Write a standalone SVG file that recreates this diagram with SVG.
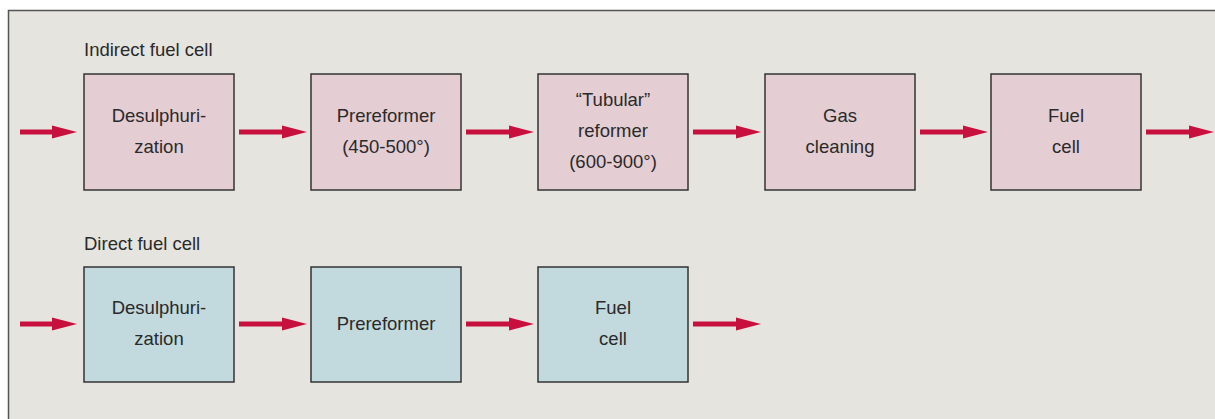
<svg xmlns="http://www.w3.org/2000/svg" width="1215" height="419" viewBox="0 0 1215 419">
<defs>
<style>
.frame{fill:#e5e4de;stroke:#555;stroke-width:1.5}
.pink{fill:#e5cdd4;stroke:#333;stroke-width:1.5}
.blue{fill:#c2d9de;stroke:#333;stroke-width:1.5}
text{font-family:"Liberation Sans",Arial,sans-serif;font-size:18.5px;fill:#2a2a2a}
.c{text-anchor:middle}
.conn line{stroke:#c8103f;stroke-width:5;marker-end:url(#ah)}
</style>
<marker id="ah" markerUnits="userSpaceOnUse" markerWidth="26" markerHeight="14" refX="4" refY="7" orient="auto" viewBox="0 0 26 14">
<path d="M0,0.5 L25,7 L0,13.5 z" fill="#c8103f"/>
</marker>
</defs>
<rect width="1215" height="419" fill="#ffffff"/>
<rect class="frame" x="8.5" y="10.5" width="1220" height="420"/>
<text x="84" y="56">Indirect fuel cell</text>
<text x="84" y="250">Direct fuel cell</text>
<g id="n1"><rect class="pink" x="84" y="74" width="150" height="116"/><text class="c" x="159" y="122">Desulphuri-</text><text class="c" x="159" y="153">zation</text></g>
<g id="n2"><rect class="pink" x="311" y="74" width="150" height="116"/><text class="c" x="386" y="122">Prereformer</text><text class="c" x="386" y="153">(450-500°)</text></g>
<g id="n3"><rect class="pink" x="538" y="74" width="150" height="116"/><text class="c" x="613" y="106">“Tubular”</text><text class="c" x="613" y="137">reformer</text><text class="c" x="613" y="168">(600-900°)</text></g>
<g id="n4"><rect class="pink" x="765" y="74" width="150" height="116"/><text class="c" x="840" y="122">Gas</text><text class="c" x="840" y="153">cleaning</text></g>
<g id="n5"><rect class="pink" x="991" y="74" width="150" height="116"/><text class="c" x="1066" y="122">Fuel</text><text class="c" x="1066" y="153">cell</text></g>
<g id="m1"><rect class="blue" x="84" y="267" width="150" height="115"/><text class="c" x="159" y="314">Desulphuri-</text><text class="c" x="159" y="345">zation</text></g>
<g id="m2"><rect class="blue" x="311" y="267" width="150" height="115"/><text class="c" x="386" y="330">Prereformer</text></g>
<g id="m3"><rect class="blue" x="538" y="267" width="150" height="115"/><text class="c" x="613" y="314">Fuel</text><text class="c" x="613" y="345">cell</text></g>
<g class="conn" id="connectors">
<line x1="20" y1="132" x2="56" y2="132"/>
<line x1="239" y1="132" x2="286" y2="132"/>
<line x1="466" y1="132" x2="513" y2="132"/>
<line x1="693" y1="132" x2="740" y2="132"/>
<line x1="920" y1="132" x2="967" y2="132"/>
<line x1="1146" y1="132" x2="1193" y2="132"/>
<line x1="20" y1="324" x2="56" y2="324"/>
<line x1="239" y1="324" x2="286" y2="324"/>
<line x1="466" y1="324" x2="513" y2="324"/>
<line x1="693" y1="324" x2="740" y2="324"/>
</g>
</svg>
